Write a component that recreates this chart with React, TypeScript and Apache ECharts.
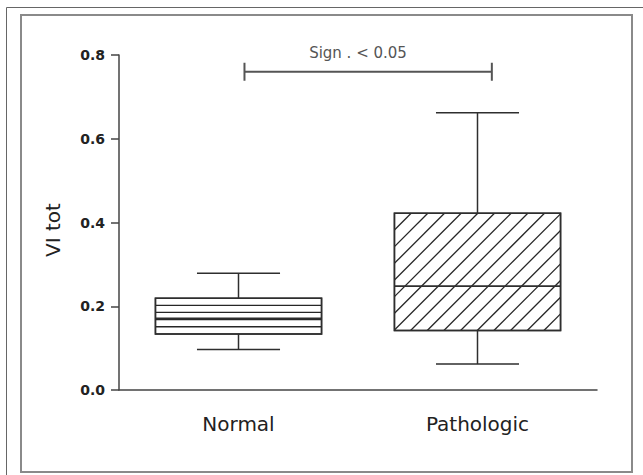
import React, { useEffect, useRef } from "react";
import * as echarts from "echarts";

const categories = ["Normal", "Pathologic"];
const whiskerLow = [0.097, 0.062];
const quartile1 = [0.134, 0.142];
const medians = [0.171, 0.248];
const quartile3 = [0.219, 0.422];
const whiskerHigh = [0.279, 0.662];

const yMin = 0;
const yMax = 0.8;
const yStep = 0.2;
const yTitle = "VI tot";

const signText = "Sign . < 0.05";
// bracket ends, as fractions of the distance between the two category centres
const bracketFrom = 0.025;
const bracketTo = 1.06;
const bracketLevel = 0.76;

const FONT = "'DejaVu Sans', Verdana, sans-serif";
const INK = "#2e2e2e";

export default function App() {
  const ref = useRef<HTMLDivElement>(null);

  useEffect(() => {
    if (!ref.current) return;
    const chart = echarts.init(ref.current, null, { renderer: "svg" });

    const boxData = categories.map((_, i) => [
      i,
      whiskerLow[i],
      quartile1[i],
      medians[i],
      quartile3[i],
      whiskerHigh[i],
    ]);

    const renderBox = (params: any, api: any) => {
      const idx = params.dataIndex;
      const x = api.value(0);
      const pLow = api.coord([x, api.value(1)]);
      const pQ1 = api.coord([x, api.value(2)]);
      const pMed = api.coord([x, api.value(3)]);
      const pQ3 = api.coord([x, api.value(4)]);
      const pHigh = api.coord([x, api.value(5)]);
      const band = api.size([1, 0])[0];
      const boxW = band * 0.695;
      const half = boxW / 2;
      const capHalf = boxW / 4;
      const cx = pMed[0];
      const x0 = cx - half;
      const x1 = cx + half;
      const y0 = pQ3[1];
      const y1 = pQ1[1];
      const lineStyle = { stroke: INK, lineWidth: 1.5 };
      const hatchStyle = { stroke: "#262626", lineWidth: 1.3 };
      const children: any[] = [];

      children.push({
        type: "rect",
        shape: { x: x0, y: y0, width: boxW, height: y1 - y0 },
        style: { fill: "#fff", stroke: INK, lineWidth: 1.5 },
      });

      if (idx === 0) {
        const step = 7.15;
        for (let k = 1; y1 - k * step > y0 + 2; k++) {
          const yy = y1 - k * step;
          children.push({
            type: "line",
            shape: { x1: x0, y1: yy, x2: x1, y2: yy },
            style: hatchStyle,
          });
        }
      } else {
        const step = 16.67;
        const cStart = x0 + y0;
        const cEnd = x1 + y1;
        for (let c = cStart + step; c < cEnd - 1; c += step) {
          const xa = Math.max(x0, c - y1);
          const xb = Math.min(x1, c - y0);
          if (xb > xa) {
            children.push({
              type: "line",
              shape: { x1: xa, y1: c - xa, x2: xb, y2: c - xb },
              style: hatchStyle,
            });
          }
        }
      }

      children.push({
        type: "line",
        shape: { x1: x0, y1: pMed[1], x2: x1, y2: pMed[1] },
        style: { stroke: INK, lineWidth: 1.6 },
      });
      children.push({
        type: "rect",
        shape: { x: x0, y: y0, width: boxW, height: y1 - y0 },
        style: { fill: "none", stroke: INK, lineWidth: 1.5 },
      });
      children.push({
        type: "line",
        shape: { x1: cx, y1: y0, x2: cx, y2: pHigh[1] },
        style: lineStyle,
      });
      children.push({
        type: "line",
        shape: { x1: cx, y1: y1, x2: cx, y2: pLow[1] },
        style: lineStyle,
      });
      children.push({
        type: "line",
        shape: { x1: cx - capHalf, y1: pHigh[1], x2: cx + capHalf, y2: pHigh[1] },
        style: lineStyle,
      });
      children.push({
        type: "line",
        shape: { x1: cx - capHalf, y1: pLow[1], x2: cx + capHalf, y2: pLow[1] },
        style: lineStyle,
      });
      return { type: "group", children };
    };

    const bracketData = [[0, 1, bracketLevel]];

    const renderBracket = (_params: any, api: any) => {
      const p0 = api.coord([0, api.value(2)]);
      const p1 = api.coord([1, api.value(2)]);
      const span = p1[0] - p0[0];
      const xa = p0[0] + span * bracketFrom;
      const xb = p0[0] + span * bracketTo;
      const xm = p0[0] + span * 0.5;
      const y = p0[1];
      const st = { stroke: "#555", lineWidth: 2 };
      return {
        type: "group",
        children: [
          { type: "line", shape: { x1: xa, y1: y, x2: xb, y2: y }, style: st },
          { type: "line", shape: { x1: xa, y1: y - 9, x2: xa, y2: y + 9 }, style: st },
          { type: "line", shape: { x1: xb, y1: y - 9, x2: xb, y2: y + 9 }, style: st },
          {
            type: "text",
            x: xm,
            y: y - 19,
            style: {
              text: signText,
              fill: "#555",
              font: `15px ${FONT}`,
              align: "center",
              verticalAlign: "middle",
            },
          },
        ],
      };
    };

    chart.setOption({
      animation: false,
      backgroundColor: "#fff",
      graphic: [
        {
          type: "line",
          shape: { x1: 6.5, y1: 7.5, x2: 643, y2: 7.5 },
          style: { stroke: "#666", lineWidth: 1 },
        },
        {
          type: "line",
          shape: { x1: 6.5, y1: 7.5, x2: 6.5, y2: 475 },
          style: { stroke: "#666", lineWidth: 1 },
        },
        {
          type: "rect",
          shape: { x: 21, y: 15, width: 611, height: 457 },
          style: { fill: "none", stroke: "#8a8a8a", lineWidth: 2 },
        },
        {
          type: "text",
          x: 53,
          y: 230,
          rotation: Math.PI / 2,
          style: {
            text: yTitle,
            fill: "#222",
            font: `20px ${FONT}`,
            align: "center",
            verticalAlign: "middle",
          },
        },
      ],
      grid: { left: 119, top: 55, right: 46, bottom: 85, containLabel: false },
      xAxis: {
        type: "category",
        data: categories,
        boundaryGap: true,
        axisLine: { lineStyle: { color: "#444", width: 1.5 } },
        axisTick: { alignWithLabel: true, length: 9, lineStyle: { color: "#444", width: 1.5 } },
        axisLabel: { margin: 24, fontSize: 20, fontFamily: FONT, color: "#222" },
        splitLine: { show: false },
      },
      yAxis: {
        type: "value",
        min: yMin,
        max: yMax,
        interval: yStep,
        axisLine: { show: true, lineStyle: { color: "#444", width: 1.5 } },
        axisTick: { show: true, length: 8, lineStyle: { color: "#444", width: 1.5 } },
        axisLabel: {
          margin: 14,
          fontSize: 14,
          fontWeight: "bold",
          fontFamily: FONT,
          color: "#222",
          formatter: (v: number) => v.toFixed(1),
        },
        splitLine: { show: false },
      },
      series: [
        {
          type: "custom",
          renderItem: renderBox,
          data: boxData,
          encode: { x: 0, y: [1, 2, 3, 4, 5] },
        },
        {
          type: "custom",
          renderItem: renderBracket,
          data: bracketData,
          encode: { x: [0, 1], y: 2 },
          clip: false,
        },
      ],
    });

    return () => chart.dispose();
  }, []);

  return (
    <div
      ref={ref}
      style={{ position: "fixed", left: 0, top: 0, width: 643, height: 475, background: "#fff" }}
    />
  );
}
